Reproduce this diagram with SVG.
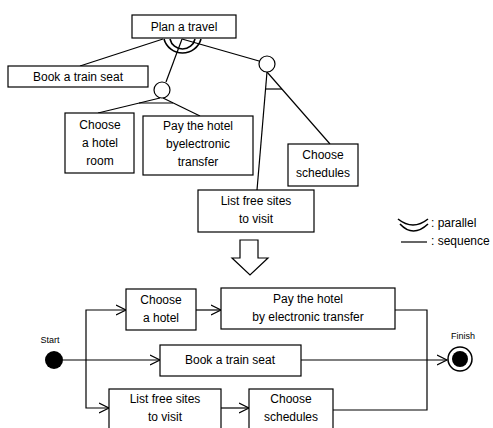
<svg xmlns="http://www.w3.org/2000/svg" width="493" height="428" viewBox="0 0 493 428">
<style>
.box{fill:#fff;stroke:#000;stroke-width:1.2}
.ln{fill:none;stroke:#000;stroke-width:1.2}
.arc{fill:none;stroke:#000;stroke-width:1.6}
.t{font-family:"Liberation Sans",Arial,sans-serif;font-size:12px;fill:#000;text-anchor:middle}
.s{font-family:"Liberation Sans",Arial,sans-serif;font-size:9px;fill:#000;text-anchor:middle}
.lg{font-family:"Liberation Sans",Arial,sans-serif;font-size:12px;fill:#000}
</style>
<defs>
<marker id="arr" markerWidth="12" markerHeight="12" refX="10" refY="6" orient="auto" markerUnits="userSpaceOnUse">
<path d="M0,1 L10,6 L0,11" fill="none" stroke="#000" stroke-width="1.2"/>
</marker>
</defs>
<g id="connectors">
<line class="ln" x1="163" y1="39" x2="80" y2="66"/>
<line class="ln" x1="182" y1="39" x2="166" y2="82"/>
<line class="ln" x1="182" y1="39" x2="259" y2="61"/>
<path class="arc" d="M164,39 A19.2,19.2 0 0 0 201,39"/>
<path class="arc" d="M170,39 A12.8,12.8 0 0 0 195,39"/>
<line class="ln" x1="160" y1="98" x2="98" y2="113"/>
<line class="ln" x1="163" y1="98" x2="200" y2="116"/>
<line class="ln" x1="139" y1="103" x2="173" y2="103"/>
<line class="ln" x1="267" y1="72" x2="257" y2="190"/>
<line class="ln" x1="267" y1="72" x2="330" y2="144"/>
<line class="ln" x1="265.6" y1="89" x2="282" y2="89"/>
<line class="ln" x1="63" y1="360" x2="160" y2="360" marker-end="url(#arr)"/>
<polyline class="ln" points="86,360 86,310 126,310" marker-end="url(#arr)"/>
<polyline class="ln" points="86,360 86,408 109,408" marker-end="url(#arr)"/>
<line class="ln" x1="196" y1="310" x2="221" y2="310" marker-end="url(#arr)"/>
<line class="ln" x1="221" y1="408" x2="249" y2="408" marker-end="url(#arr)"/>
<polyline class="ln" points="395,310 427,310 427,410 333,410"/>
<line class="ln" x1="301" y1="360" x2="447" y2="360" marker-end="url(#arr)"/>
</g>
<g id="plan"><rect class="box" x="132" y="15" width="104" height="23"/><text class="t" x="184" y="31">Plan a travel</text></g>
<g id="book1"><rect class="box" x="8" y="66" width="140" height="21"/><text class="t" x="78" y="81">Book a train seat</text></g>
<g id="or1"><circle class="box" cx="162" cy="90" r="8"/></g>
<g id="or2"><circle class="box" cx="267" cy="64" r="8"/></g>
<g id="room"><rect class="box" x="65" y="113" width="69" height="60"/><text class="t" x="100" y="129">Choose</text><text class="t" x="100" y="147">a hotel</text><text class="t" x="100" y="165">room</text></g>
<g id="pay1"><rect class="box" x="143" y="116" width="110" height="59"/><text class="t" x="198" y="130">Pay the hotel</text><text class="t" x="198" y="148">byelectronic</text><text class="t" x="198" y="166">transfer</text></g>
<g id="sched1"><rect class="box" x="288" y="144" width="70" height="42"/><text class="t" x="323" y="159">Choose</text><text class="t" x="323" y="177">schedules</text></g>
<g id="list1"><rect class="box" x="198" y="190" width="116" height="42"/><text class="t" x="256" y="205">List free sites</text><text class="t" x="256" y="223">to visit</text></g>
<g id="legend">
<path class="arc" d="M398,219 Q413,231 428,219"/>
<path class="arc" d="M400,224 Q413,238 428,224"/>
<line class="ln" x1="401" y1="242" x2="427" y2="242"/>
<text class="lg" x="431" y="227">: parallel</text>
<text class="lg" x="431" y="245">: sequence</text>
</g>
<g id="bigarrow"><path d="M240,240 L258,240 L258,258 L268,258 L250,275 L232,258 L240,258 Z" fill="#fff" stroke="#000" stroke-width="1.2"/></g>
<g id="start"><circle cx="54" cy="360" r="9" fill="#000"/><text class="s" x="50" y="343">Start</text></g>
<g id="choose2"><rect class="box" x="126" y="289" width="70" height="41"/><text class="t" x="161" y="304">Choose</text><text class="t" x="161" y="322">a hotel</text></g>
<g id="pay2"><rect class="box" x="221" y="288" width="174" height="41"/><text class="t" x="308" y="303">Pay the hotel</text><text class="t" x="308" y="321">by electronic transfer</text></g>
<g id="book2"><rect class="box" x="160" y="345" width="141" height="31"/><text class="t" x="230" y="364">Book a train seat</text></g>
<g id="list2"><rect class="box" x="109" y="389" width="112" height="42"/><text class="t" x="165" y="403">List free sites</text><text class="t" x="165" y="421">to visit</text></g>
<g id="sched2"><rect class="box" x="249" y="389" width="84" height="42"/><text class="t" x="291" y="403">Choose</text><text class="t" x="291" y="421">schedules</text></g>
<g id="finish"><circle cx="460" cy="359" r="12" fill="#fff" stroke="#000" stroke-width="1.5"/><circle cx="460" cy="359" r="8" fill="#000"/><text class="s" x="463" y="339">Finish</text></g>
</svg>
